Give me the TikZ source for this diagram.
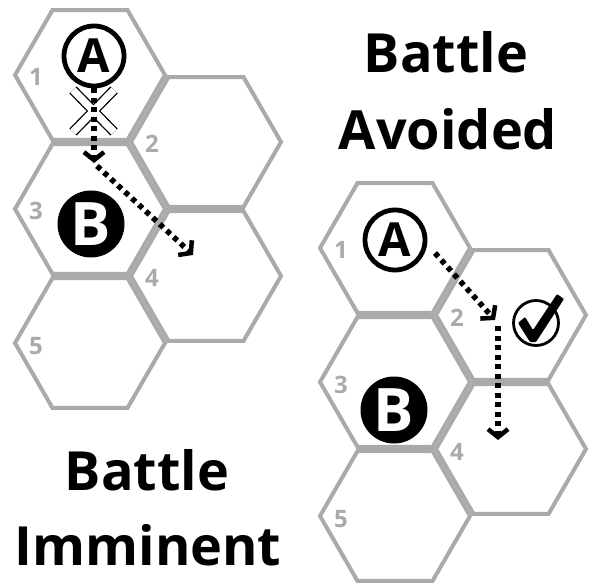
\documentclass[tikz,border=0pt]{standalone}
\usepackage{fontspec}
\setmainfont{Open Sans}
\usetikzlibrary{arrows.meta,calc}
\definecolor{hexgray}{RGB}{170,170,170}
\tikzset{
  hexline/.style={draw=hexgray, line width=4pt, line join=miter},
  hexnum/.style={text=hexgray, font=\fontsize{24}{24}\selectfont\bfseries, anchor=base, inner sep=0pt},
  title/.style={font=\fontsize{54}{54}\selectfont\bfseries, anchor=base, inner sep=0pt},
  unitA/.style={circle, draw=black, line width=4.8pt, minimum size=60pt, inner sep=0pt, font=\fontsize{47}{47}\selectfont\bfseries},
  unitB/.style={circle, fill=black, text=white, minimum size=67pt, inner sep=0pt, font=\fontsize{60}{60}\selectfont\bfseries},
  moveline/.style={line width=5.5pt, dash pattern=on 5pt off 4.5pt, -{Straight Barb[length=8pt,width=20pt,line width=4.5pt]}},
}
\newcommand{\hexat}[2]{%
  \draw[hexline] (#1) +(0:75) -- +(60:75) -- +(120:75) -- +(180:75) -- +(240:75) -- +(300:75) -- cycle;
  \node[hexnum] (#1n) at ($(#1)+(-54,11)$) {#2};
}
\begin{document}
\begin{tikzpicture}[x=1pt, y=-1pt]
\useasboundingbox (0,0) rectangle (594,585);
% left board centers
\coordinate (L1) at (90,75);
\coordinate (L2) at (206,142);
\coordinate (L3) at (90,209);
\coordinate (L4) at (206,276);
\coordinate (L5) at (90,343);
% right board centers
\coordinate (R1) at (395,248);
\coordinate (R2) at (511,315);
\coordinate (R3) at (395,382);
\coordinate (R4) at (511,449);
\coordinate (R5) at (395,516);
\hexat{L1}{1}\hexat{L2}{2}\hexat{L3}{3}\hexat{L4}{4}\hexat{L5}{5}
\hexat{R1}{1}\hexat{R2}{2}\hexat{R3}{3}\hexat{R4}{4}\hexat{R5}{5}

% titles
\node[title] (t1) at (446,73) {Battle};
\node[title] (t2) at (448,150) {Avoided};
\node[title] (t3) at (147,490) {Battle};
\node[title] (t4) at (148,565) {Imminent};

% units
\node[unitA] (AL) at (94,56) {A};
\node[unitB] (BL) at (91,224) {B};
\node[unitA] (AR) at (395,240) {A};
\node[unitB] (BR) at (394,410) {B};

% X mark (left)
\coordinate (X1) at (73,90);
\coordinate (X2) at (114,132);
\coordinate (X3) at (114,90);
\coordinate (X4) at (73,132);
\draw[line width=10pt, black] (X1) -- (X2) (X3) -- (X4);
\draw[line width=7.4pt, white] (X1) -- (X2) (X3) -- (X4);

% left moves
\coordinate (LB) at (94,163);
\coordinate (LT) at (193,255);
\draw[moveline] (AL.south) -- (LB);
\draw[moveline] ($(LB)+(3,3)$) -- (LT);

% right moves
\coordinate (RS) at (435,253);
\coordinate (RB) at (495,320);
\coordinate (RV) at (498,326);
\coordinate (RT) at (498,440);
\draw[moveline] (RS) -- (RB);
\draw[moveline] (RV) -- (RT);

% check mark
\node[circle, draw=black, line width=2.8pt, minimum size=45pt, inner sep=0pt] (chk) at (536,323) {};
\fill[black, rounded corners=1pt] (518,323) -- (525,317) -- (533,330) -- (557,294) -- (564,299) -- (536,342) -- (530,342) -- cycle;
\end{tikzpicture}
\end{document}
